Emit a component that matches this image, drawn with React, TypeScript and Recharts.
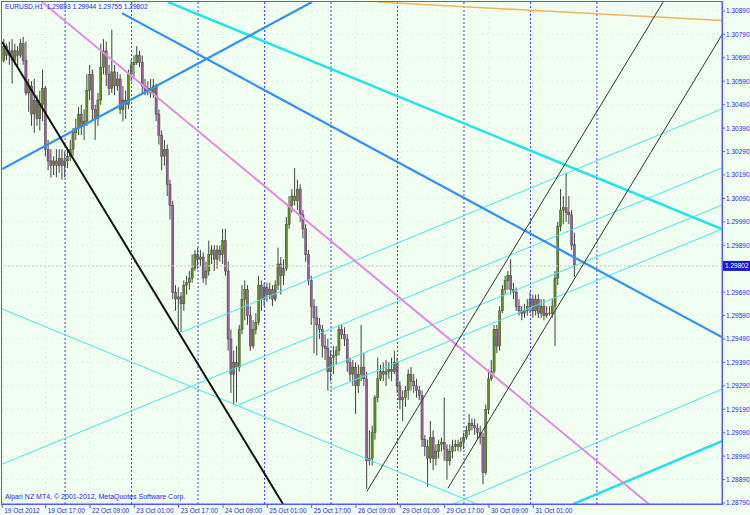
import React from 'react';
import { ComposedChart, Bar, XAxis, YAxis, CartesianGrid, ReferenceLine } from 'recharts';

// EURUSD H1, 19 Oct 02:00 .. 31 Oct 16:00 (one entry per hourly bar)
const opens = [
  1.3068, 1.3074, 1.307, 1.3072, 1.3068, 1.3072, 1.307, 1.3075, 1.3068, 1.3054, 1.3057, 1.3045, 1.3051, 1.3043, 1.3049, 1.3056, 1.303, 1.3025, 1.3023, 1.3025, 1.3023, 1.3026,
  1.3023, 1.3025, 1.3027, 1.303, 1.3037, 1.3039, 1.3045, 1.304, 1.3042, 1.3055, 1.3062, 1.3047, 1.3043, 1.3051, 1.3065, 1.3072, 1.3062, 1.3056, 1.3063, 1.3057, 1.306, 1.3047, 1.3051, 1.3049,
  1.3062, 1.3066, 1.3067, 1.307, 1.3067, 1.3057, 1.3055, 1.3056, 1.3054, 1.3057, 1.3045, 1.3036, 1.3027, 1.303, 1.3015, 1.3006, 1.2969, 1.2966, 1.2967, 1.2964, 1.2972, 1.2973, 1.2975, 1.2979,
  1.2985, 1.2983, 1.2984, 1.2975, 1.2978, 1.2985, 1.2987, 1.2983, 1.2987, 1.2985, 1.2991, 1.2978, 1.2949, 1.2934, 1.2939, 1.2937, 1.2953, 1.2966, 1.297, 1.2959, 1.2946, 1.2953, 1.2956, 1.2972,
  1.2966, 1.2971, 1.2968, 1.297, 1.2966, 1.2972, 1.2981, 1.2976, 1.2979, 1.2998, 1.3006, 1.301, 1.3008, 1.3013, 1.3002, 1.2996, 1.2985, 1.2974, 1.2963, 1.2958, 1.2955, 1.2953, 1.2946, 1.2945,
  1.2935, 1.2941, 1.2942, 1.2944, 1.2953, 1.2951, 1.2949, 1.2939, 1.2934, 1.2937, 1.2929, 1.2934, 1.2937, 1.2932, 1.2897, 1.2898, 1.2909, 1.2924, 1.2932, 1.2935, 1.2934, 1.2935, 1.2936, 1.2935,
  1.2939, 1.2929, 1.2923, 1.2924, 1.2927, 1.2934, 1.2931, 1.2929, 1.2927, 1.2925, 1.2906, 1.2903, 1.2898, 1.2907, 1.2898, 1.2901, 1.2904, 1.2905, 1.2902, 1.2897, 1.2901, 1.2903, 1.2904, 1.2903,
  1.2905, 1.2907, 1.291, 1.2913, 1.2912, 1.2911, 1.2909, 1.2907, 1.2892, 1.2919, 1.2932, 1.2935, 1.2953, 1.2946, 1.2961, 1.297, 1.2974, 1.2976, 1.297, 1.2969, 1.2963, 1.2961, 1.296, 1.2961,
  1.2963, 1.2966, 1.2961, 1.2966, 1.296, 1.2963, 1.2959, 1.296, 1.296, 1.2963, 1.2975, 1.2997, 1.3004, 1.3005, 1.3003, 1.3002, 1.29893,
];
const highs = [
  1.3077, 1.3075, 1.3076, 1.3077, 1.3075, 1.3074, 1.3077, 1.3078, 1.3076, 1.306, 1.3059, 1.306, 1.3053, 1.3055, 1.3064, 1.3057, 1.3034, 1.303, 1.3027, 1.303, 1.303, 1.303,
  1.3029, 1.303, 1.3034, 1.3039, 1.3043, 1.3048, 1.3049, 1.3047, 1.3062, 1.3066, 1.3064, 1.3049, 1.3054, 1.3075, 1.3077, 1.3076, 1.3066, 1.3081, 1.3066, 1.3063, 1.3062, 1.3057, 1.3055, 1.3064,
  1.3068, 1.307, 1.3074, 1.3072, 1.307, 1.306, 1.3059, 1.306, 1.306, 1.3058, 1.3047, 1.3038, 1.3034, 1.3032, 1.3017, 1.3008, 1.2972, 1.2971, 1.2969, 1.2974, 1.2976, 1.2978, 1.2985, 1.2987,
  1.2988, 1.2987, 1.2986, 1.2982, 1.2991, 1.2989, 1.2989, 1.2989, 1.2989, 1.2996, 1.2996, 1.2982, 1.2953, 1.2944, 1.2946, 1.2955, 1.2972, 1.2974, 1.2972, 1.2963, 1.2957, 1.296, 1.2976, 1.2974,
  1.2973, 1.2973, 1.2973, 1.2972, 1.2974, 1.2988, 1.2984, 1.2983, 1.3001, 1.301, 1.3013, 1.3022, 1.3017, 1.3015, 1.3004, 1.2998, 1.2987, 1.2976, 1.2966, 1.2963, 1.2958, 1.2955, 1.2951, 1.2949,
  1.2944, 1.2946, 1.2946, 1.2955, 1.2955, 1.2954, 1.2951, 1.2941, 1.294, 1.2939, 1.2938, 1.2955, 1.2943, 1.2935, 1.291, 1.2912, 1.2925, 1.2941, 1.2938, 1.2939, 1.294, 1.2939, 1.2941, 1.2944,
  1.2941, 1.2931, 1.2927, 1.2929, 1.2936, 1.2937, 1.2934, 1.2932, 1.2929, 1.2927, 1.2908, 1.2906, 1.2914, 1.291, 1.2904, 1.2906, 1.2907, 1.2924, 1.2904, 1.2904, 1.2906, 1.2906, 1.2906, 1.2907,
  1.2909, 1.2912, 1.2917, 1.2915, 1.2915, 1.2913, 1.2912, 1.2909, 1.2921, 1.2936, 1.294, 1.2955, 1.2955, 1.2963, 1.2972, 1.2976, 1.2978, 1.2983, 1.2973, 1.2971, 1.2966, 1.2963, 1.2964, 1.2966,
  1.2969, 1.2968, 1.2968, 1.2968, 1.2966, 1.2966, 1.2963, 1.2963, 1.2966, 1.2978, 1.2999, 1.3013, 1.301, 1.302, 1.301, 1.3004, 1.29944,
];
const lows = [
  1.3067, 1.3068, 1.3066, 1.3058, 1.3066, 1.3065, 1.3069, 1.3066, 1.3053, 1.3046, 1.304, 1.3037, 1.304, 1.3038, 1.3042, 1.3027, 1.3021, 1.3018, 1.3019, 1.3018, 1.302, 1.3017,
  1.3018, 1.3022, 1.3025, 1.3027, 1.3034, 1.3036, 1.3036, 1.3034, 1.304, 1.3051, 1.3042, 1.3034, 1.304, 1.3049, 1.3062, 1.3057, 1.3053, 1.3054, 1.3053, 1.3055, 1.3045, 1.3042, 1.3043, 1.3047,
  1.3059, 1.306, 1.3066, 1.3065, 1.3054, 1.3053, 1.3053, 1.3052, 1.3052, 1.3042, 1.3032, 1.3021, 1.3023, 1.301, 1.3, 1.2966, 1.2961, 1.2953, 1.2952, 1.2961, 1.2968, 1.297, 1.2973, 1.2978,
  1.2979, 1.298, 1.2973, 1.2972, 1.2976, 1.2981, 1.2978, 1.2979, 1.2982, 1.2981, 1.2976, 1.2944, 1.2926, 1.2921, 1.2922, 1.2935, 1.2951, 1.2957, 1.2955, 1.2944, 1.2945, 1.2951, 1.2955, 1.2961,
  1.2963, 1.2965, 1.2966, 1.2963, 1.2965, 1.297, 1.2968, 1.2972, 1.2978, 1.2996, 1.3003, 1.3006, 1.3004, 1.2999, 1.2992, 1.2982, 1.2972, 1.2955, 1.2943, 1.2942, 1.2949, 1.2941, 1.294, 1.2927,
  1.2931, 1.2934, 1.2938, 1.2942, 1.2949, 1.2946, 1.2935, 1.2931, 1.2929, 1.2917, 1.2926, 1.2931, 1.2929, 1.2885, 1.2895, 1.2895, 1.2906, 1.2922, 1.2931, 1.2931, 1.2929, 1.2932, 1.2931, 1.2934,
  1.2926, 1.2919, 1.2914, 1.292, 1.2923, 1.2927, 1.2926, 1.2924, 1.2923, 1.2903, 1.2899, 1.2886, 1.2896, 1.2893, 1.2895, 1.2898, 1.2901, 1.2897, 1.2889, 1.2895, 1.2898, 1.2901, 1.2901, 1.2901,
  1.2902, 1.2906, 1.2908, 1.291, 1.2908, 1.2906, 1.2904, 1.2887, 1.2891, 1.2917, 1.2931, 1.2934, 1.2943, 1.2944, 1.296, 1.2968, 1.297, 1.2968, 1.2966, 1.2961, 1.2959, 1.2957, 1.2958, 1.2959,
  1.296, 1.2958, 1.2959, 1.2958, 1.2958, 1.2957, 1.2958, 1.2959, 1.2958, 1.2946, 1.2972, 1.2995, 1.2998, 1.2999, 1.2998, 1.2987, 1.29755,
];
const closes = [
  1.3074, 1.307, 1.3072, 1.3068, 1.3072, 1.307, 1.3075, 1.3068, 1.3054, 1.3057, 1.3045, 1.3051, 1.3043, 1.3049, 1.3056, 1.303, 1.3025, 1.3023, 1.3025, 1.3023, 1.3026, 1.3023,
  1.3025, 1.3027, 1.303, 1.3037, 1.3039, 1.3045, 1.304, 1.3042, 1.3055, 1.3062, 1.3047, 1.3043, 1.3051, 1.3065, 1.3072, 1.3062, 1.3056, 1.3063, 1.3057, 1.306, 1.3047, 1.3051, 1.3049, 1.3062,
  1.3066, 1.3067, 1.307, 1.3067, 1.3057, 1.3055, 1.3056, 1.3054, 1.3057, 1.3045, 1.3036, 1.3027, 1.303, 1.3015, 1.3006, 1.2969, 1.2966, 1.2967, 1.2964, 1.2972, 1.2973, 1.2975, 1.2979, 1.2985,
  1.2983, 1.2984, 1.2975, 1.2978, 1.2985, 1.2987, 1.2983, 1.2987, 1.2985, 1.2991, 1.2978, 1.2949, 1.2934, 1.2939, 1.2937, 1.2953, 1.2966, 1.297, 1.2959, 1.2946, 1.2953, 1.2956, 1.2972, 1.2966,
  1.2971, 1.2968, 1.297, 1.2966, 1.2972, 1.2981, 1.2976, 1.2979, 1.2998, 1.3006, 1.301, 1.3008, 1.3013, 1.3002, 1.2996, 1.2985, 1.2974, 1.2963, 1.2958, 1.2955, 1.2953, 1.2946, 1.2945, 1.2935,
  1.2941, 1.2942, 1.2944, 1.2953, 1.2951, 1.2949, 1.2939, 1.2934, 1.2937, 1.2929, 1.2934, 1.2937, 1.2932, 1.2897, 1.2898, 1.2909, 1.2924, 1.2932, 1.2935, 1.2934, 1.2935, 1.2936, 1.2935, 1.2939,
  1.2929, 1.2923, 1.2924, 1.2927, 1.2934, 1.2931, 1.2929, 1.2927, 1.2925, 1.2906, 1.2903, 1.2898, 1.2907, 1.2898, 1.2901, 1.2904, 1.2905, 1.2902, 1.2897, 1.2901, 1.2903, 1.2904, 1.2903, 1.2905,
  1.2907, 1.291, 1.2913, 1.2912, 1.2911, 1.2909, 1.2907, 1.2892, 1.2919, 1.2932, 1.2935, 1.2953, 1.2946, 1.2961, 1.297, 1.2974, 1.2976, 1.297, 1.2969, 1.2963, 1.2961, 1.296, 1.2961, 1.2963,
  1.2966, 1.2961, 1.2966, 1.296, 1.2963, 1.2959, 1.296, 1.296, 1.2963, 1.2975, 1.2997, 1.3004, 1.3005, 1.3003, 1.3002, 1.2989, 1.29802,
];

// time axis labels (bar index -> text)
const timeTicks = [-0.7, 15, 31, 47, 63, 79, 95, 111, 127, 143, 159, 175, 191];
const timeLabels = [
  '19 Oct 2012', '19 Oct 17:00', '22 Oct 09:00', '23 Oct 01:00', '23 Oct 17:00', '24 Oct 09:00', '25 Oct 01:00',
  '25 Oct 17:00', '26 Oct 09:00', '29 Oct 01:00', '29 Oct 17:00', '30 Oct 09:00', '31 Oct 01:00',
];
// 00:00 bars (period separators)
const daySeparators = [22, 46, 70, 94, 118, 142, 166, 190, 214];
// 1.29790 sits under the bid price box, so it is left out like in the terminal
const priceTicks = [
  1.2879, 1.2889, 1.2899, 1.2909, 1.2919, 1.2929, 1.2939, 1.2949, 1.2959, 1.2969,
  1.2989, 1.2999, 1.3009, 1.3019, 1.3029, 1.3039, 1.3049, 1.3059, 1.3069, 1.3079, 1.3089,
];
const bidPrice = 1.29802;

// trend lines, [bar index, price] at each end
const blackThick = [[-0.7, 1.30758], [100.7, 1.28785]];
const blueUp = [[-0.7, 1.30215], [111.1, 1.30928]];
const blueDown = [[42.5, 1.30881], [259.1, 1.29498]];
const aquaDown = [[59.2, 1.30928], [259.1, 1.29959]];
const orangeTop = [[135, 1.30928], [259.1, 1.30849]];
const violetDown = [[13.7, 1.30928], [232.8, 1.28785]];
const channelA = [[131.0, 1.2884], [237.9, 1.30928]];
const channelB = [[160.2, 1.28853], [259.1, 1.30788]];
const fanR1 = [[64.2, 1.29519], [259.1, 1.30472]];
const fanR2 = [[83.3, 1.29203], [259.1, 1.30062]];
const fanR3 = [[-0.7, 1.28956], [259.1, 1.3022]];
const fanR4 = [[117.6, 1.29272], [259.1, 1.29959]];
const fanR5 = [[162.0, 1.28785], [259.1, 1.29276]];
const fanF1 = [[-0.7, 1.29618], [170.7, 1.28785]];
const aquaLow = [[205.4, 1.28785], [259.1, 1.29054]];

const FRAME = '#5a5aff';
const TEXT = '#2626f0';
const FONT = '"Liberation Sans", Arial, sans-serif';

const data = opens.map((o, i) => ({ i, o, h: highs[i], l: lows[i], c: closes[i] }));

const lines = [
  { pts: fanF1, stroke: '#3fe6f2', w: 1 },
  { pts: fanR1, stroke: '#3fe6f2', w: 1 },
  { pts: fanR2, stroke: '#3fe6f2', w: 1 },
  { pts: fanR3, stroke: '#3fe6f2', w: 1 },
  { pts: fanR4, stroke: '#3fe6f2', w: 1 },
  { pts: fanR5, stroke: '#3fe6f2', w: 1 },
  { pts: aquaLow, stroke: '#22e2ee', w: 2.5 },
  { pts: aquaDown, stroke: '#22e2ee', w: 2.5 },
  { pts: orangeTop, stroke: '#f2b45a', w: 1.5 },
  { pts: violetDown, stroke: '#e688e6', w: 2 },
  { pts: blueUp, stroke: '#2f8ff5', w: 2.2 },
  { pts: blueDown, stroke: '#2f8ff5', w: 2.2 },
  { pts: blackThick, stroke: '#121212', w: 2 },
  { pts: channelA, stroke: '#333333', w: 1 },
  { pts: channelB, stroke: '#333333', w: 1 },
];

function Candle(props: any) {
  const { x, y, width, height, payload } = props;
  const { o, h, l, c } = payload;
  const cx = x + width / 2;
  const span = h - l || 1e-9;
  const py = (p: number) => y + ((h - p) / span) * height;
  const top = py(Math.max(o, c));
  const bot = py(Math.min(o, c));
  if (o === c) {
    return (
      <g>
        <line x1={cx} x2={cx} y1={y} y2={y + height} stroke="#333" strokeWidth={0.9} />
        <line x1={cx - 1.4} x2={cx + 1.4} y1={top} y2={top} stroke="#e03030" strokeWidth={1} />
      </g>
    );
  }
  return (
    <g>
      <line x1={cx} x2={cx} y1={y} y2={y + height} stroke="#2e2e2e" strokeWidth={0.9} />
      <rect
        x={cx - 1.1}
        y={top}
        width={2.2}
        height={Math.max(bot - top, 0.8)}
        fill={c > o ? '#5e8e1e' : '#9a5c9a'}
        stroke="#3a3a3a"
        strokeWidth={0.4}
      />
    </g>
  );
}

function TimeTick(props: any) {
  const { x, y, payload } = props;
  const k = timeTicks.indexOf(payload.value);
  return (
    <g>
      <line x1={x} x2={x} y1={y} y2={y + 4} stroke={FRAME} />
      <text x={x + 2} y={y + 9} fontSize={6.5} fill={TEXT} fontFamily={FONT}>
        {timeLabels[k]}
      </text>
    </g>
  );
}

function PriceTick(props: any) {
  const { x, y, payload } = props;
  return (
    <g>
      <line x1={x} x2={x + 3} y1={y} y2={y} stroke={FRAME} />
      <text x={x + 4} y={y + 2.4} fontSize={6.5} fill={TEXT} fontFamily={FONT}>
        {Number(payload.value).toFixed(5)}
      </text>
    </g>
  );
}

function BidLabel(props: any) {
  const { viewBox } = props;
  const x = viewBox.x + viewBox.width;
  const y = viewBox.y;
  return (
    <g>
      <rect x={x + 1} y={y - 5} width={27} height={10} fill="#1a1ad0" />
      <text x={x + 3} y={y + 2.4} fontSize={6.5} fill="#ffffff" fontFamily={FONT}>
        {bidPrice.toFixed(5)}
      </text>
    </g>
  );
}

export default function App() {
  return (
    <div
      style={{
        position: 'fixed',
        left: 0,
        top: 0,
        width: 750,
        height: 515,
        background: '#f0fff0',
        overflow: 'hidden',
      }}
    >
      <ComposedChart
        width={750}
        height={515}
        data={data}
        margin={{ top: 2, right: 0, bottom: 0, left: 2 }}
      >
        <CartesianGrid stroke="#d6e8d6" strokeDasharray="1 4" />
        <XAxis
          type="number"
          dataKey="i"
          domain={[-0.78, 259.15]}
          allowDataOverflow
          ticks={timeTicks}
          interval={0}
          height={11}
          tickSize={0}
          tickMargin={0}
          tickLine={false}
          axisLine={{ stroke: FRAME }}
          tick={<TimeTick />}
        />
        <YAxis
          type="number"
          orientation="right"
          domain={[1.287857, 1.309284]}
          allowDataOverflow
          ticks={priceTicks}
          interval={0}
          width={28}
          tickSize={0}
          tickMargin={0}
          tickLine={false}
          axisLine={{ stroke: FRAME }}
          tick={<PriceTick />}
        />
        {daySeparators.map((d) => (
          <ReferenceLine key={d} x={d} stroke="#3d3dff" strokeDasharray="2 2" ifOverflow="hidden" />
        ))}
        <ReferenceLine
          y={bidPrice}
          stroke="#c4c4d4"
          strokeDasharray="2 2"
          label={<BidLabel />}
        />
        <Bar
          dataKey={(d: any) => [d.l, d.h]}
          barSize={2}
          shape={(p: any) => <Candle {...p} />}
          isAnimationActive={false}
        />
        {lines.map((ln, k) => (
          <ReferenceLine
            key={k}
            segment={[
              { x: ln.pts[0][0], y: ln.pts[0][1] },
              { x: ln.pts[1][0], y: ln.pts[1][1] },
            ]}
            stroke={ln.stroke}
            strokeWidth={ln.w}
            ifOverflow="hidden"
          />
        ))}
      </ComposedChart>
      <div
        style={{
          position: 'absolute',
          left: 1,
          top: 1,
          width: 722,
          height: 504,
          boxSizing: 'border-box',
          border: `1px solid ${FRAME}`,
          pointerEvents: 'none',
        }}
      />
      <div
        style={{
          position: 'absolute',
          left: 5,
          top: 3,
          fontSize: 6.6,
          fontFamily: FONT,
          color: TEXT,
          whiteSpace: 'pre',
        }}
      >
        {'EURUSD,H1  1.29893 1.29944 1.29755 1.29802'}
      </div>
      <div
        style={{
          position: 'absolute',
          left: 5,
          top: 493,
          fontSize: 7,
          fontFamily: FONT,
          color: TEXT,
          whiteSpace: 'pre',
        }}
      >
        Alpari NZ MT4, © 2001-2012, MetaQuotes Software Corp.
      </div>
    </div>
  );
}
